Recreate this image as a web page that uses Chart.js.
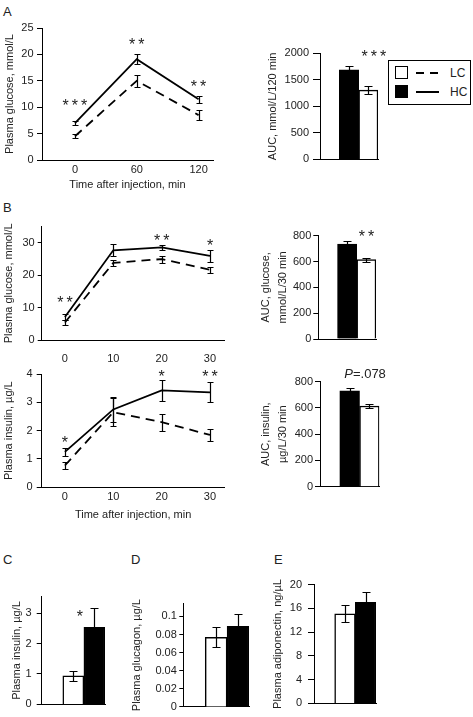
<!DOCTYPE html>
<html>
<head>
<meta charset="utf-8">
<script src="https://cdn.jsdelivr.net/npm/chart.js@4.4.1/dist/chart.umd.min.js"></script>
<style>
  body { margin: 0; background: #fff; width: 473px; height: 717px; position: relative; overflow: hidden;
         font-family: "Liberation Sans", Arial, sans-serif; color: #222; }
  canvas { position: absolute; }
  .panel { position: absolute; font-size: 13px; line-height: 13px; }
  #legend { position: absolute; left: 388px; top: 60px; width: 81px; height: 43px; border: 1px solid #000; background: #fff; }
  #legend .sw { position: absolute; width: 11px; height: 11px; border: 1.5px solid #000; }
  #legend .ln { position: absolute; width: 23px; height: 2px; }
  #legend .tx { position: absolute; font-size: 12px; line-height: 14px; }
</style>
</head>
<body>
<div class="panel" style="left:3px;top:5px">A</div>
<div class="panel" style="left:3px;top:201px">B</div>
<div class="panel" style="left:3px;top:553px">C</div>
<div class="panel" style="left:131px;top:553px">D</div>
<div class="panel" style="left:274px;top:553px">E</div>

<canvas id="lineA"></canvas>
<canvas id="barA"></canvas>
<canvas id="lineB1"></canvas>
<canvas id="barB1"></canvas>
<canvas id="lineB2"></canvas>
<canvas id="barB2"></canvas>
<canvas id="barC"></canvas>
<canvas id="barD"></canvas>
<canvas id="barE"></canvas>

<div id="legend">
  <div class="sw" style="left:6px;top:5px;background:#fff"></div>
  <div class="ln" style="left:27px;top:11px;background:repeating-linear-gradient(to right,#000 0 8px,transparent 8px 14px)"></div>
  <div class="tx" style="left:61px;top:5px">LC</div>
  <div class="sw" style="left:6px;top:24px;background:#000"></div>
  <div class="ln" style="left:27px;top:30px;background:#000"></div>
  <div class="tx" style="left:61px;top:24px">HC</div>
</div>

<script>
// ---- Panel A: glucose tolerance, 0-120 min ----
const timeA = [0, 60, 120];
const glucoseA_LC = [4.5, 15.0, 8.5];
const glucoseA_LC_err = [0.4, 1.1, 0.9];
const glucoseA_HC = [7.0, 19.1, 11.5];
const glucoseA_HC_err = [0.4, 0.9, 0.7];
const glucoseTicksA = [0, 5, 10, 15, 20, 25];
const aucA = [1690, 1305];          // HC, LC
const aucA_err = [75, 80];
const aucTicksA = [0, 500, 1000, 1500, 2000];

// ---- Panel B: 0-30 min ----
const timeB = [0, 10, 20, 30];
const glucoseB_LC = [5.4, 23.8, 25.0, 21.7];
const glucoseB_LC_err = [0.8, 1.0, 1.1, 1.0];
const glucoseB_HC = [7.1, 27.7, 28.6, 26.0];
const glucoseB_HC_err = [0.9, 1.9, 0.8, 1.8];
const glucoseTicksB = [0, 10, 20, 30];
const aucGlucoseB = [735, 615];     // HC, LC
const aucGlucoseB_err = [25, 15];
const insulinB_LC = [0.77, 2.65, 2.3, 1.85];
const insulinB_LC_err = [0.12, 0.5, 0.3, 0.22];
const insulinB_HC = [1.25, 2.75, 3.42, 3.35];
const insulinB_HC_err = [0.13, 0.45, 0.38, 0.35];
const insulinTicksB = [0, 1, 2, 3, 4];
const aucInsulinB = [730, 615];     // HC, LC
const aucInsulinB_err = [25, 15];
const aucTicksB = [0, 200, 400, 600, 800];

// ---- Panels C, D, E (LC, HC) ----
const insulinC = [0.94, 2.53];
const insulinC_err = [0.16, 0.63];
const insulinTicksC = [0, 1, 2, 3];
const glucagonD = [0.077, 0.089];
const glucagonD_err = [0.011, 0.014];
const glucagonTicksD = [0, 0.02, 0.04, 0.06, 0.08, 0.1];
const adiponectinE = [15.1, 17.0];
const adiponectinE_err = [1.4, 1.7];
const adiponectinTicksE = [0, 4, 8, 12, 16, 20];

Chart.defaults.font.family = '"Liberation Sans", Arial, sans-serif';
Chart.defaults.font.size = 11;
Chart.defaults.color = '#222';

// place a canvas on the page and work out paddings so the plot area lands where wanted
function box(id, c, area) {
    const el = document.getElementById(id);
    el.style.left = c[0] + 'px';
    el.style.top = c[1] + 'px';
    el.width = c[2];
    el.height = c[3];
    return {
        el: el,
        padding: { top: area[1] - c[1], right: c[0] + c[2] - area[2], left: 0, bottom: 0 },
        yWidth: area[0] - c[0],
        xHeight: c[1] + c[3] - area[3]
    };
}

function yAxis(b, max, ticks, title, tl, pad, lh) {
    return {
        min: 0,
        max: max,
        afterBuildTicks: s => { s.ticks = ticks.map(v => ({ value: v })); },
        afterFit: s => { s.width = b.yWidth; },
        ticks: { padding: pad, callback: v => String(v) },
        grid: { drawOnChartArea: false, drawTicks: true, tickLength: tl, color: '#000' },
        border: { display: true, color: '#000', width: 1 },
        title: { display: true, text: title, padding: 0, font: { size: 11, lineHeight: lh || 1.2 } }
    };
}

function xLine(b, min, max, ticks, title, pad) {
    return {
        type: 'linear',
        min: min,
        max: max,
        afterBuildTicks: s => { s.ticks = ticks.map(v => ({ value: v })); },
        afterFit: s => { s.height = b.xHeight; },
        ticks: { padding: pad, callback: v => String(v), maxRotation: 0 },
        grid: { display: false, drawTicks: false },
        border: { display: true, color: '#000', width: 1 },
        title: title ? { display: true, text: title, padding: 0 } : { display: false }
    };
}

function xBar(b) {
    return {
        type: 'category',
        afterFit: s => { s.height = b.xHeight; },
        ticks: { display: false },
        grid: { display: false, drawTicks: false },
        border: { display: true, color: '#000', width: 1 }
    };
}

// error bars drawn from each dataset's "errors" array
function errorBars(cap) {
    return {
        id: 'errorBars',
        afterDatasetsDraw(chart) {
            const ctx = chart.ctx;
            const y = chart.scales.y;
            chart.data.datasets.forEach((ds, di) => {
                if (!ds.errors) return;
                chart.getDatasetMeta(di).data.forEach((el, i) => {
                    const v = ds.data[i], e = ds.errors[i];
                    if (v == null || e == null) return;
                    const top = Math.round(y.getPixelForValue(v + e)) + 0.5;
                    const bot = Math.round(y.getPixelForValue(v - e)) + 0.5;
                    const x = Math.round(el.x) + 0.5;
                    ctx.save();
                    ctx.strokeStyle = '#000';
                    ctx.lineWidth = 1.2;
                    ctx.beginPath();
                    ctx.moveTo(x, top); ctx.lineTo(x, bot);
                    ctx.moveTo(x - cap / 2, top); ctx.lineTo(x + cap / 2, top);
                    ctx.moveTo(x - cap / 2, bot); ctx.lineTo(x + cap / 2, bot);
                    ctx.stroke();
                    ctx.restore();
                });
            });
        }
    };
}

// significance marks and p-value text, placed in data units
function notes(items) {
    return {
        id: 'notes',
        afterDraw(chart) {
            const ctx = chart.ctx;
            items.forEach(n => {
                const x = chart.scales.x.getPixelForValue(n.x);
                const y = chart.scales.y.getPixelForValue(n.y);
                ctx.save();
                ctx.fillStyle = '#222';
                ctx.textBaseline = 'middle';
                if (n.p) {
                    ctx.font = 'italic 13px "Liberation Sans", Arial';
                    const w1 = ctx.measureText('P').width;
                    ctx.font = '13px "Liberation Sans", Arial';
                    const w2 = ctx.measureText(n.p).width;
                    const x0 = x - (w1 + w2) / 2;
                    ctx.textAlign = 'left';
                    ctx.font = 'italic 13px "Liberation Sans", Arial';
                    ctx.fillText('P', x0, y);
                    ctx.font = '13px "Liberation Sans", Arial';
                    ctx.fillText(n.p, x0 + w1, y);
                } else {
                    ctx.font = '16px "Liberation Sans", Arial';
                    ctx.letterSpacing = '3px';
                    ctx.textAlign = 'center';
                    ctx.fillText(n.text, x + 1.5, y + 4);
                }
                ctx.restore();
            });
        }
    };
}

function baseOptions(b) {
    return {
        responsive: false,
        animation: false,
        devicePixelRatio: 1,
        layout: { padding: b.padding },
        plugins: { legend: { display: false }, tooltip: { enabled: false } }
    };
}

function lineDatasets(lc, lcErr, hc, hcErr) {
    const common = { borderColor: '#000', borderWidth: 1.8, pointRadius: 0, tension: 0, fill: false };
    return [
        Object.assign({ label: 'LC', data: lc, errors: lcErr, borderDash: [9, 6] }, common),
        Object.assign({ label: 'HC', data: hc, errors: hcErr }, common)
    ];
}

function lineChart(id, c, area, labels, datasets, xr, yMax, yTicks, yTitle, yTl, yPad, xTitle, xPad, marks) {
    const b = box(id, c, area);
    const opts = baseOptions(b);
    opts.scales = {
        x: xLine(b, xr[0], xr[1], labels, xTitle, xPad),
        y: yAxis(b, yMax, yTicks, yTitle, yTl, yPad)
    };
    return new Chart(b.el, {
        type: 'line',
        data: { labels: labels, datasets: datasets },
        options: opts,
        plugins: [errorBars(6), notes(marks)]
    });
}

// bars: first slot left empty, like the original layout
function barChart(id, c, area, names, values, errs, colors, yMax, yTicks, yTitle, yTl, yPad, lh, marks) {
    const b = box(id, c, area);
    const opts = baseOptions(b);
    opts.scales = { x: xBar(b), y: yAxis(b, yMax, yTicks, yTitle, yTl, yPad, lh) };
    return new Chart(b.el, {
        type: 'bar',
        data: {
            labels: [''].concat(names),
            datasets: [{
                data: [null].concat(values),
                errors: [null].concat(errs),
                backgroundColor: ['#fff'].concat(colors),
                borderColor: '#000',
                borderWidth: 1.5,
                barPercentage: 1,
                categoryPercentage: 1
            }]
        },
        options: opts,
        plugins: [errorBars(8), notes(marks)]
    });
}

const BLACK_WHITE = ['#000', '#fff'];
const WHITE_BLACK = ['#fff', '#000'];

lineChart('lineA', [3, 10, 225, 182], [42, 28, 213, 160], timeA,
    lineDatasets(glucoseA_LC, glucoseA_LC_err, glucoseA_HC, glucoseA_HC_err),
    [-32, 134], 25, glucoseTicksA, 'Plasma glucose, mmol/L', 5, 3.5,
    'Time after injection, min', 3,
    [{ text: '***', x: 0, y: 10.8 }, { text: '**', x: 60, y: 22.4 }, { text: '**', x: 120, y: 14.5 }]);

barChart('barA', [266, 40, 120, 130], [320, 53.3, 378, 160], ['HC', 'LC'], aucA, aucA_err, BLACK_WHITE,
    2000, aucTicksA, 'AUC, mmol/L/120 min', 7, 4, 1.2,
    [{ text: '***', x: 2.29, y: 2000 }]);

lineChart('lineB1', [2, 210, 235, 156], [41.7, 226.7, 224.5, 340], timeB,
    lineDatasets(glucoseB_LC, glucoseB_LC_err, glucoseB_HC, glucoseB_HC_err),
    [-4.8, 33], 35, glucoseTicksB, 'Plasma glucose, mmol/L', 4, 3,
    null, 12,
    [{ text: '**', x: 0, y: 12.4 }, { text: '**', x: 20, y: 31.6 }, { text: '*', x: 30, y: 30.1 }]);

barChart('barB1', [258, 222, 126, 127], [318.3, 235.7, 376, 339], ['HC', 'LC'], aucGlucoseB, aucGlucoseB_err, BLACK_WHITE,
    800, aucTicksB, ['AUC, glucose,', 'mmol/L/30 min'], 5, 2, 1.5,
    [{ text: '**', x: 2, y: 820 }]);

lineChart('lineB2', [2, 362, 235, 160], [41.7, 374, 224.5, 487.3], timeB,
    lineDatasets(insulinB_LC, insulinB_LC_err, insulinB_HC, insulinB_HC_err),
    [-4.8, 33], 4, insulinTicksB, 'Plasma insulin, \u00b5g/L', 5, 4,
    'Time after injection, min', 3,
    [{ text: '*', x: 0, y: 1.67 }, { text: '*', x: 20, y: 4.0 }, { text: '**', x: 30, y: 4.0 }]);

barChart('barB2', [258, 362, 130, 135], [320, 381.7, 379.3, 486.7], ['HC', 'LC'], aucInsulinB, aucInsulinB_err, BLACK_WHITE,
    800, aucTicksB, ['AUC, insulin,', '\u00b5g/L/30 min'], 5, 2, 1.5,
    [{ p: '=.078', x: 1.78, y: 852 }]);

barChart('barC', [10, 585, 100, 131], [41.7, 595, 105, 708.3], ['LC', 'HC'], insulinC, insulinC_err, WHITE_BLACK,
    3.54, insulinTicksC, 'Plasma insulin, \u00b5g/L', 5, 5, 1.2,
    [{ text: '*', x: 1.31, y: 2.98 }]);

barChart('barD', [130, 590, 125, 126], [183.3, 603.3, 249, 708.3], ['LC', 'HC'], glucagonD, glucagonD_err, WHITE_BLACK,
    0.1145, glucagonTicksD, 'Plasma glucagon, \u00b5g/L', 4, 2.5, 1.2, []);

barChart('barE', [271, 572, 110, 144], [314, 584, 376, 708.3], ['LC', 'HC'], adiponectinE, adiponectinE_err, WHITE_BLACK,
    20, adiponectinTicksE, 'Plasma adiponectin, ng/\u00b5L', 6, 6, 1.2, []);
</script>
</body>
</html>
